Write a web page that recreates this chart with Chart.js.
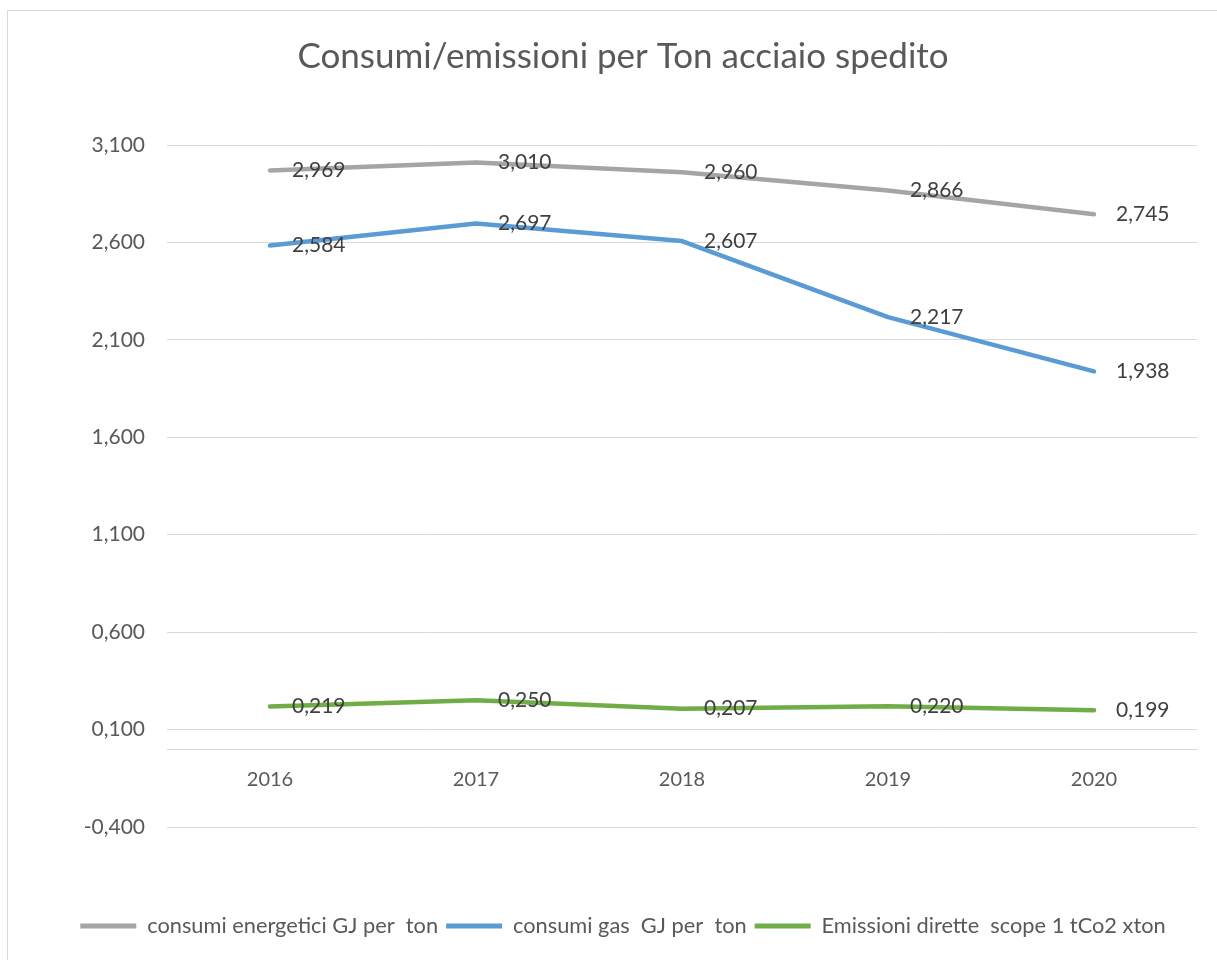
<!DOCTYPE html>
<html>
<head>
<meta charset="utf-8">
<script src="https://cdn.jsdelivr.net/npm/chart.js@4/dist/chart.umd.min.js"></script>
<style>
  html, body { margin: 0; padding: 0; background: #fff; overflow: hidden; }
  #frame { position: absolute; left: 7px; top: 10px; width: 1300px; height: 1000px; border: 1px solid #d9d9d9; box-sizing: border-box; }
  #wrap { position: absolute; left: 0; top: 0; width: 1217px; height: 960px; }
</style>
</head>
<body>
<div id="frame"></div>
<div id="wrap"><canvas id="chart"></canvas></div>
<script>
const years = ['2016', '2017', '2018', '2019', '2020'];
const energyValues = [2.969, 3.010, 2.960, 2.866, 2.745];
const gasValues = [2.584, 2.697, 2.607, 2.217, 1.938];
const emissionValues = [0.219, 0.250, 0.207, 0.220, 0.199];
const seriesNames = ['consumi energetici GJ per  ton', 'consumi gas  GJ per  ton', 'Emissioni dirette  scope 1 tCo2 xton'];
const yMin = -0.4;
const yMax = 3.1;
const yStep = 0.5;

const fontFamily = 'Lato, "Open Sans", sans-serif';
const formatValue = (value) => value.toFixed(3).replace('.', ',');

// Excel-style value labels, right of each point
const valueLabels = {
  id: 'valueLabels',
  afterDatasetsDraw(chart) {
    const ctx = chart.ctx;
    ctx.save();
    ctx.font = `21px ${fontFamily}`;
    ctx.fillStyle = '#404040';
    ctx.textBaseline = 'middle';
    ctx.textAlign = 'left';
    chart.data.datasets.forEach((dataset, index) => {
      chart.getDatasetMeta(index).data.forEach((point, i) => {
        ctx.fillText(formatValue(dataset.data[i]), point.x + 22, point.y);
      });
    });
    ctx.restore();
  },
};

const lineStyle = (color) => ({
  borderColor: color,
  backgroundColor: color,
  borderWidth: 4.5,
  pointRadius: 0,
  pointHoverRadius: 0,
  tension: 0,
  fill: false,
  borderCapStyle: 'round',
  borderJoinStyle: 'round',
});

new Chart(document.getElementById('chart'), {
  type: 'line',
  data: {
    labels: years,
    datasets: [
      { label: seriesNames[0], data: energyValues, ...lineStyle('#a5a5a5') },
      { label: seriesNames[1], data: gasValues, ...lineStyle('#5b9bd5') },
      { label: seriesNames[2], data: emissionValues, ...lineStyle('#70ad47') },
    ],
  },
  options: {
    responsive: true,
    maintainAspectRatio: false,
    animation: false,
    layout: { padding: { left: 49, right: 20, top: 0, bottom: 13 } },
    plugins: {
      title: {
        display: true,
        text: 'Consumi/emissioni per Ton acciaio spedito',
        color: '#595959',
        font: { family: fontFamily, size: 35, weight: 'normal' },
        padding: { top: 36, bottom: 67 },
      },
      legend: {
        position: 'bottom',
        // blank legend title only reserves the gap under the plot
        title: { display: true, text: ' ', font: { size: 1 }, padding: { top: 79, bottom: 0 } },
        labels: {
          color: '#595959',
          font: { family: fontFamily, size: 21.8 },
          boxWidth: 56,
          boxHeight: 5,
          padding: 8,
          generateLabels: (chart) => Chart.defaults.plugins.legend.labels.generateLabels(chart).map((item) => ({ ...item, lineWidth: 0, fillStyle: item.strokeStyle })),
        },
      },
      tooltip: { enabled: false },
    },
    scales: {
      x: {
        type: 'category',
        offset: true,
        position: { y: 0 },
        grid: { color: 'rgba(0,0,0,0)', drawTicks: false },
        border: { display: true, color: '#d9d9d9', width: 1 },
        ticks: { color: '#595959', font: { family: fontFamily, size: 20 }, padding: 18 },
      },
      y: {
        min: yMin,
        max: yMax,
        grid: { color: '#d9d9d9', drawTicks: false },
        border: { display: false },
        ticks: { stepSize: yStep, color: '#595959', font: { family: fontFamily, size: 21 }, padding: 22, callback: (value) => formatValue(value) },
        afterFit: (scale) => { scale.width = 118; },
      },
    },
  },
  plugins: [valueLabels],
});
</script>
</body>
</html>
